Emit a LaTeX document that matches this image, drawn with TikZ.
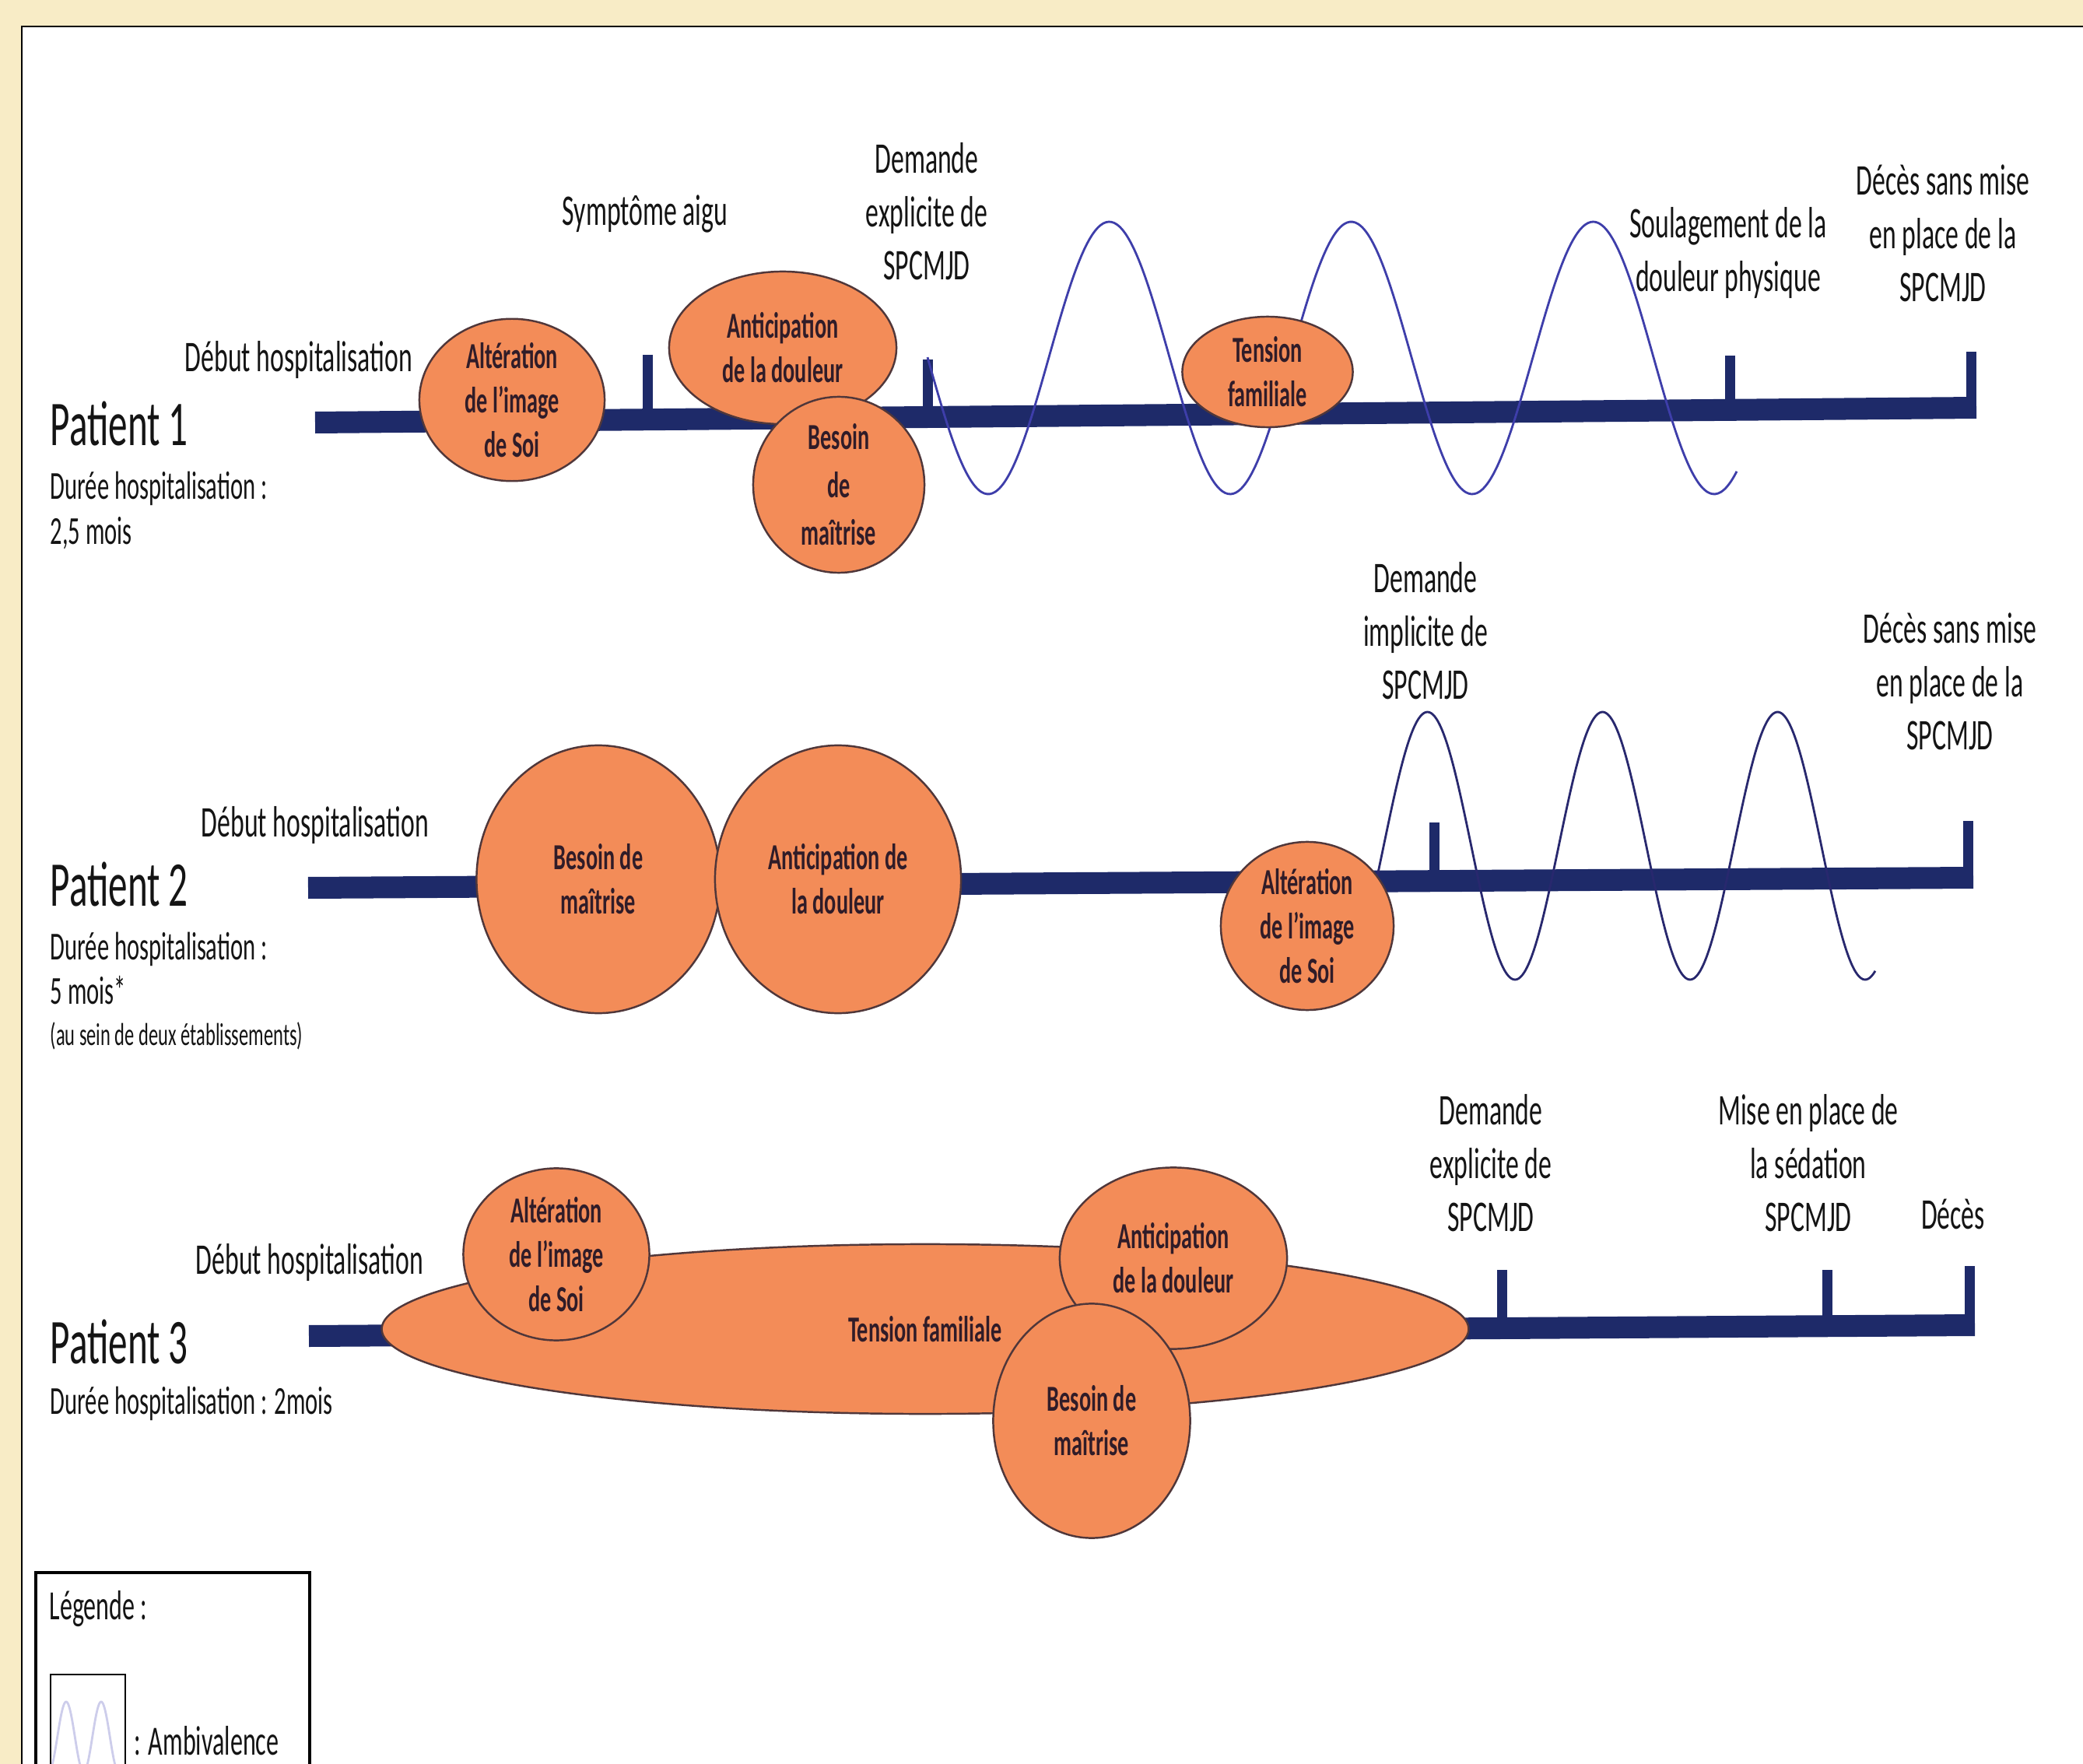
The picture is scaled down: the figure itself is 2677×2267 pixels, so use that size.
\documentclass[tikz,border=0pt]{standalone}
\usepackage{fontspec}
\setmainfont{Carlito}[FakeStretch=0.6]
\usetikzlibrary{shapes.geometric,calc}
\definecolor{cream}{RGB}{248,236,198}
\definecolor{navy}{RGB}{30,42,105}
\definecolor{orfill}{RGB}{243,140,88}
\definecolor{oredge}{RGB}{80,55,58}
\definecolor{emotext}{RGB}{48,28,40}
\definecolor{waveA}{RGB}{62,62,170}
\definecolor{waveB}{RGB}{40,40,110}
\definecolor{waveL}{RGB}{205,205,235}
\definecolor{lbltext}{RGB}{20,20,20}
\newcommand\lblfont{\fontsize{16}{19.5}\selectfont}
\newcommand\emofont{\bfseries\fontsize{13.4}{16.2}\selectfont}
\newcommand\patfont{\fontsize{23.3}{28}\selectfont}
\newcommand\durfont{\fontsize{14.5}{17}\selectfont}
\newcommand\etabfont{\fontsize{11.6}{14}\selectfont}
\newcommand\legfont{\fontsize{15.2}{18}\selectfont}
\tikzset{
  emo/.style={ellipse, draw=oredge, line width=0.7pt, fill=orfill, inner sep=0pt,
    align=center, font=\emofont, text=emotext},
  lbl/.style={align=center, inner sep=0pt, font=\lblfont, text=lbltext},
  patl/.style={anchor=base west, inner sep=0pt, font=\patfont, text=lbltext},
  durl/.style={anchor=base west, inner sep=0pt, font=\durfont, text=lbltext},
  tline/.style={draw=navy, line width=0.28cm, line cap=butt},
  tmark/.style={draw=navy, line width=0.13cm, line cap=butt},
  waveone/.style={draw=waveA, line width=0.8pt},
  wavetwo/.style={draw=waveB, line width=0.8pt},
}
\begin{document}
\begin{tikzpicture}[x=0.01cm,y=-0.01cm]
\useasboundingbox (0,0) rectangle (2677,2267);
\clip (0,0) rectangle (2677,2267);
% background
\fill[cream] (0,0) rectangle (2677,2267);
\draw[fill=white, line width=0.8pt] (28,34) rectangle (2720,2320);

% ================= Patient 1 =================
\coordinate (p1s) at (405,543);
\coordinate (p1e) at (2540,524);
\draw[tline] (p1s) -- (p1e);
\coordinate (p1t1) at (832,456);
\coordinate (p1t2) at (1192,462);
\coordinate (p1t3) at (2223,457);
\coordinate (p1t4) at (2533,452);
\draw[tmark] (p1t1) -- (832,539);
\draw[tmark] (p1t2) -- (1192,536);
\draw[tmark] (p1t3) -- (2223,527);
\draw[tmark] (p1t4) -- (2533,530);
\draw[waveone] plot[domain=1192:2232, samples=300, smooth] (\x,{460+175*cos((\x-1270)/311*360)});
\node[emo, minimum width=2.38cm, minimum height=2.08cm] (p1alt) at (658,514) {Altération\\de l’image\\de Soi};
\node[emo, minimum width=2.92cm, minimum height=1.96cm] (p1ant) at (1006,447) {Anticipation\\de la douleur};
\node[emo, minimum width=2.20cm, minimum height=2.26cm, font=\bfseries\fontsize{13.4}{17.5}\selectfont] (p1bes) at (1078,623) {Besoin\\de\\maîtrise};
\node[emo, minimum width=2.19cm, minimum height=1.42cm] (p1ten) at (1629,478) {Tension\\familiale};

\node[lbl] (p1deb) at (384,463) {Début hospitalisation};
\node[lbl] (p1sym) at (829,275) {Symptôme aigu};
\node[lbl] (p1dem) at (1191,272) {Demande\\explicite de\\SPCMJD};
\node[lbl] (p1sou) at (2221,325) {Soulagement de la\\douleur physique};
\node[lbl] (p1dec) at (2497,300) {Décès sans mise\\en place de la\\SPCMJD};
\node[patl] (p1pat) at (64,573) {Patient 1};
\node[durl] (p1dur) at (64,642) {Durée hospitalisation :};
\node[durl] (p1mo) at (64,700) {2,5 mois};

% ================= Patient 2 =================
\coordinate (p2s) at (396,1141);
\coordinate (p2e) at (2536,1128);
\draw[tline] (p2s) -- (p2e);
\coordinate (p2t1) at (1843,1057);
\coordinate (p2t2) at (2529,1055);
\draw[tmark] (p2t1) -- (1843,1132);
\draw[tmark] (p2t2) -- (2529,1134);
\draw[wavetwo] plot[domain=1722:2410, samples=300, smooth] (\x,{1087+172*cos((\x-1947)/225*360)});
\node[emo, minimum width=3.13cm, minimum height=3.44cm] (p2bes) at (769,1130) {Besoin de\\maîtrise};
\node[emo, minimum width=3.16cm, minimum height=3.44cm] (p2ant) at (1077,1130) {Anticipation de\\la douleur};
\node[emo, minimum width=2.22cm, minimum height=2.16cm] (p2alt) at (1680,1190) {Altération\\de l’image\\de Soi};

\node[lbl] (p2deb) at (405,1060) {Début hospitalisation};
\node[lbl] (p2dem) at (1832,811) {Demande\\implicite de\\SPCMJD};
\node[lbl] (p2dec) at (2506,876) {Décès sans mise\\en place de la\\SPCMJD};
\node[patl] (p2pat) at (64,1165) {Patient 2};
\node[durl] (p2dur) at (64,1233) {Durée hospitalisation :};
\node[durl] (p2mo) at (64,1290) {5 mois*};
\node[durl, font=\etabfont] (p2eta) at (64,1343) {(au sein de deux établissements)};

% ================= Patient 3 =================
\coordinate (p3s) at (397,1717);
\coordinate (p3e) at (2538,1703);
\draw[tline] (p3s) -- (p3e);
\coordinate (p3t1) at (1930,1632);
\coordinate (p3t2) at (2348,1632);
\coordinate (p3t3) at (2531,1627);
\draw[tmark] (p3t1) -- (1930,1707);
\draw[tmark] (p3t2) -- (2348,1704);
\draw[tmark] (p3t3) -- (2531,1710);
\node[emo, minimum width=13.96cm, minimum height=2.18cm] (p3ten) at (1189,1708) {Tension familiale};
\node[emo, minimum width=2.39cm, minimum height=2.21cm] (p3alt) at (715,1612) {Altération\\de l’image\\de Soi};
\node[emo, minimum width=2.92cm, minimum height=2.33cm] (p3ant) at (1508,1617) {Anticipation\\de la douleur};
\node[emo, minimum width=2.53cm, minimum height=3.01cm] (p3bes) at (1403,1826) {Besoin de\\maîtrise};

\node[lbl] (p3deb) at (398,1622) {Début hospitalisation};
\node[lbl] (p3dem) at (1916,1495) {Demande\\explicite de\\SPCMJD};
\node[lbl] (p3mis) at (2324,1495) {Mise en place de\\la sédation\\SPCMJD};
\node[lbl] (p3dec) at (2510,1560) {Décès};
\node[patl] (p3pat) at (64,1752) {Patient 3};
\node[durl] (p3dur) at (64,1817) {Durée hospitalisation : 2mois};

% ================= Legend =================
\draw[line width=0.9pt] (46,2021) rectangle (398,2320);
\node[anchor=west, inner sep=0pt, font=\legfont, text=lbltext] (legt) at (63,2068) {Légende :};
\draw[line width=0.8pt] (65,2152) rectangle (161,2320);
\begin{scope}
\clip (66,2153) rectangle (160,2300);
\draw[draw=waveL, line width=0.8pt] plot[domain=62:153, samples=120, smooth] (\x,{2232-45*cos((\x-85)/45*360)});
\end{scope}
\node[anchor=west, inner sep=0pt, font=\legfont, text=lbltext] (legamb) at (172,2237) {: Ambivalence};
\end{tikzpicture}
\end{document}
